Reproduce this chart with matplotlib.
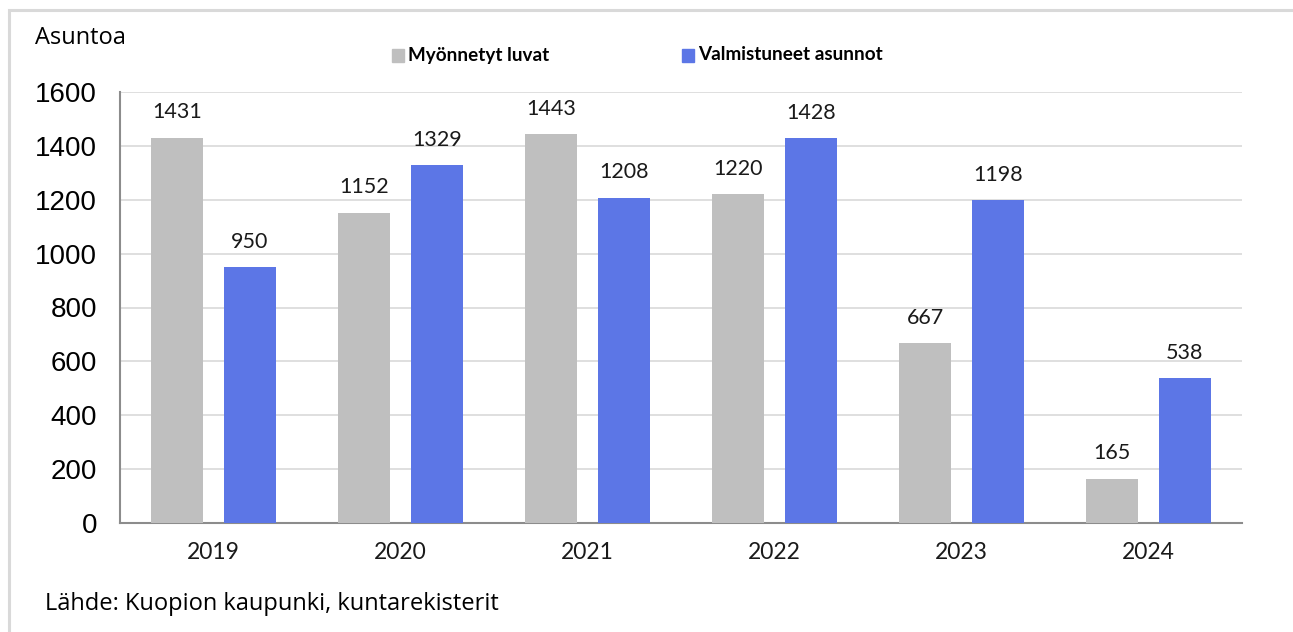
import numpy as np
import matplotlib.pyplot as plt
from matplotlib.patches import Rectangle

# data
years = ['2019', '2020', '2021', '2022', '2023', '2024']
luvat = [1431, 1152, 1443, 1220, 667, 165]
valmistuneet = [950, 1329, 1208, 1428, 1198, 538]

grey = '#BFBFBF'
blue = '#5C76E6'

W, H = 1293, 632
fig = plt.figure(figsize=(W / 100, H / 100), dpi=100)

# light frame around the whole chart
fig.patches.append(Rectangle((9 / W, -0.1), 1.2, (H - 10) / H + 0.1,
                             transform=fig.transFigure, fill=False,
                             edgecolor='#D9D9D9', linewidth=2.2))

ax = fig.add_axes([120 / W, 1 - 523 / H, (1242 - 120) / W, (523 - 92) / H])

x = np.arange(len(years))
bw = 0.283
off = 0.195
ax.bar(x - off, luvat, width=bw, color=grey, zorder=3)
ax.bar(x + off, valmistuneet, width=bw, color=blue, zorder=3)

lab_font = dict(family=['Lato', 'DejaVu Sans'], fontsize=15.5, color='#1a1a1a')
for xi, v in zip(x, luvat):
    ax.annotate(str(v), (xi - off, v), xytext=(0, 11), textcoords='offset points',
                ha='center', va='bottom', **lab_font)
for xi, v in zip(x, valmistuneet):
    ax.annotate(str(v), (xi + off, v), xytext=(0, 11), textcoords='offset points',
                ha='center', va='bottom', **lab_font)

ax.set_xlim(-0.5, len(years) - 0.5)
ax.set_ylim(0, 1600)
ax.set_yticks(range(0, 1601, 200))
ax.set_yticklabels([str(t) for t in range(0, 1601, 200)],
                   family='Liberation Sans', fontsize=20)
ax.set_xticks(x)
ax.set_xticklabels(years, family=['Lato', 'DejaVu Sans'], fontsize=16.5, color='#1a1a1a')
ax.tick_params(axis='y', length=0, pad=16.5)
ax.tick_params(axis='x', length=0, pad=14)

ax.grid(axis='y', color='#D9D9D9', linewidth=1.2, zorder=0)
for s in ['top', 'right']:
    ax.spines[s].set_visible(False)
ax.spines['left'].set_color('#8C8C8C')
ax.spines['bottom'].set_color('#8C8C8C')
ax.spines['left'].set_linewidth(1.5)
ax.spines['bottom'].set_linewidth(1.5)

# y-axis title and source
fig.text(35 / W, 1 - 38 / H, 'Asuntoa', family=['Open Sans', 'DejaVu Sans'],
         fontsize=17, va='center', ha='left')
fig.text(45 / W, 1 - 604 / H, 'Lähde: Kuopion kaupunki, kuntarekisterit',
         family=['Open Sans', 'DejaVu Sans'], fontsize=17, va='center', ha='left')

# legend drawn by hand to match its placement
leg_font = dict(family=['Lato', 'DejaVu Sans'], fontsize=13.6,
                fontweight='bold', va='center', ha='left')
for (x0, label, col) in [(392, 'Myönnetyt luvat', grey), (682, 'Valmistuneet asunnot', blue)]:
    fig.patches.append(Rectangle((x0 / W, 1 - 62 / H), 12 / W, 13 / H,
                                 transform=fig.transFigure, color=col))
    fig.text((x0 + 16) / W, 1 - 55 / H, label, **leg_font)

fig.savefig('out.png', dpi=100)
